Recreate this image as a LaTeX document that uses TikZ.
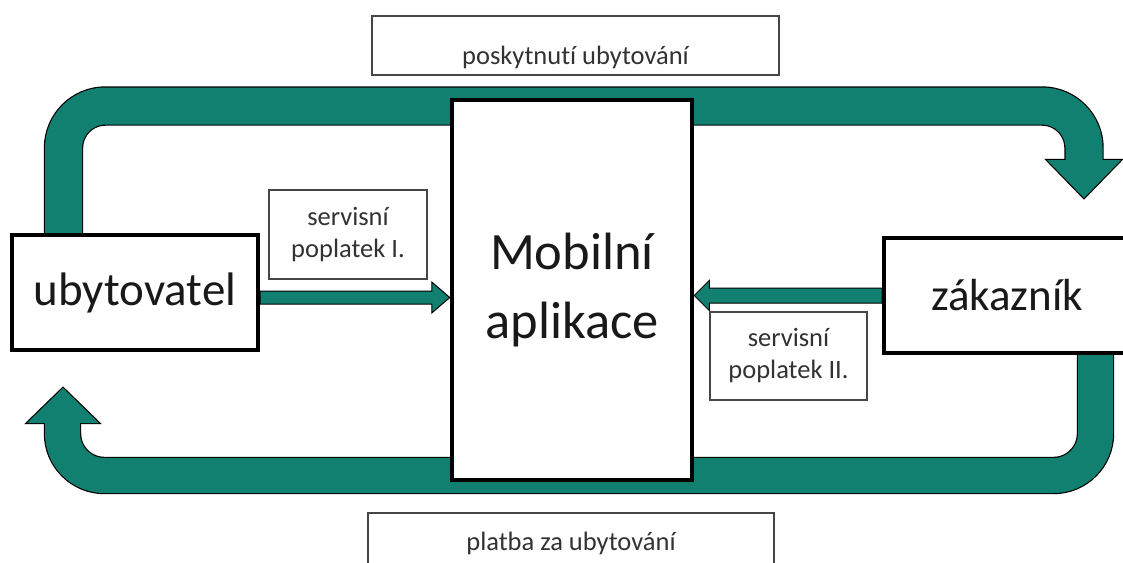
\documentclass[tikz,border=0pt]{standalone}
\usepackage{fontspec}
\setmainfont{Carlito}[Ligatures={NoCommon}]
\usetikzlibrary{calc}
\definecolor{arrteal}{RGB}{18,128,112}
\definecolor{txtdark}{RGB}{25,25,25}
\definecolor{labline}{RGB}{70,70,70}
\definecolor{labtxt}{RGB}{50,50,50}
\pgfdeclarelayer{bg}
\pgfsetlayers{bg,main}
\begin{document}
\begin{tikzpicture}[x=1pt,y=-1pt,
  boxbig/.style={draw=black, fill=white, line width=4, text=txtdark, inner sep=0pt},
  labbox/.style={draw=labline, fill=white, line width=1.6, text=labtxt, inner sep=0pt,
                 font=\fontsize{26.5}{32}\selectfont},
  shaftout/.style={draw=black, line width=#1, rounded corners=42},
  shaftin/.style={draw=arrteal, line width=#1, rounded corners=42},
  headout/.style={fill=black, draw=black, line width=2.4, line join=miter},
  headin/.style={fill=arrteal},
  smallarrow/.style={fill=arrteal, draw=black, line width=1, line join=miter}
]
\useasboundingbox (0,0) rectangle (1123,562);

% ---------- boxes ----------
\node[boxbig, minimum width=246, minimum height=115, font=\fontsize{47}{52}\selectfont]
  (ubyt) at (135,292.5) {ubytovatel};
\node[boxbig, minimum width=246, minimum height=115, font=\fontsize{45}{52}\selectfont]
  (zak) at (1007,295.5) {zákazník};
\node[boxbig, line width=4.5, minimum width=240, minimum height=380, align=center,
      font=\fontsize{52.5}{69}\selectfont]
  (mob) at (572,290) {Mobilní\\aplikace};

% ---------- labels ----------
\node[labbox, minimum width=407, anchor=north, text height=49, text depth=10]
  (prov) at (575.5,15) {poskytnutí ubytování};
\node[labbox, minimum width=406, anchor=north, text height=38, text depth=50]
  (plat) at (571,512) {platba za ubytování};
\node[labbox, minimum width=158, minimum height=89, align=center]
  (sp1) at (348,234.5) {servisní\\poplatek I.};
\node[labbox, minimum width=157, minimum height=88, align=center]
  (sp2) at (788.5,356) {servisní\\poplatek II.};

% ---------- coordinates ----------
\coordinate (tS) at ($(ubyt.north west)+(53.5,25)$);
\coordinate (tE) at (1084,166);
\coordinate (tTip) at (1084,198);
\coordinate (bS) at ($(zak.south west)+(213.5,-20)$);
\coordinate (bE) at (62.5,418);
\coordinate (bTip) at (63,388);
\coordinate (y1) at (0,297.5);
\coordinate (y2) at (0,295.5);
\coordinate (a1s) at (ubyt.east |- y1);
\coordinate (a1e) at (mob.west |- y1);
\coordinate (a2s) at (zak.west |- y2);
\coordinate (a2e) at (mob.east |- y2);

\begin{pgfonlayer}{bg}
\fill[white] (0,0) rectangle (1123,562);
% top big arrow: ubytovatel -> zakaznik
\draw[shaftout=39.4] (tS) -- (63.5,106) -- (1084,106) -- (tE);
\filldraw[headout] (1047,160) -- (1121,160) -- (tTip) -- cycle;
\draw[shaftin=37] (tS) -- (63.5,106) -- (1084,106) -- (tE);
\fill[headin] (1047,160) -- (1121,160) -- (tTip) -- cycle;
% bottom big arrow: zakaznik -> ubytovatel
\draw[shaftout=37.4] (bS) -- (1095.5,475.5) -- (62.5,475.5) -- (bE);
\filldraw[headout] (27,423) -- (99,423) -- (bTip) -- cycle;
\draw[shaftin=35] (bS) -- (1095.5,475.5) -- (62.5,475.5) -- (bE);
\fill[headin] (27,423) -- (99,423) -- (bTip) -- cycle;
% small arrow I: ubytovatel -> Mobilni aplikace
\filldraw[smallarrow] ($(a1s)+(0,-6.5)$) -- ($(a1e)+(-18,-6.5)$) -- ($(a1e)+(-18,-15.5)$)
  -- (a1e) -- ($(a1e)+(-18,15.5)$) -- ($(a1e)+(-18,6.5)$) -- ($(a1s)+(0,6.5)$) -- cycle;
% small arrow II: zakaznik -> Mobilni aplikace
\filldraw[smallarrow] ($(a2s)+(0,-7.5)$) -- ($(a2e)+(15,-7.5)$) -- ($(a2e)+(15,-15)$)
  -- (a2e) -- ($(a2e)+(15,15)$) -- ($(a2e)+(15,7.5)$) -- ($(a2s)+(0,7.5)$) -- cycle;
\end{pgfonlayer}
\end{tikzpicture}
\end{document}
